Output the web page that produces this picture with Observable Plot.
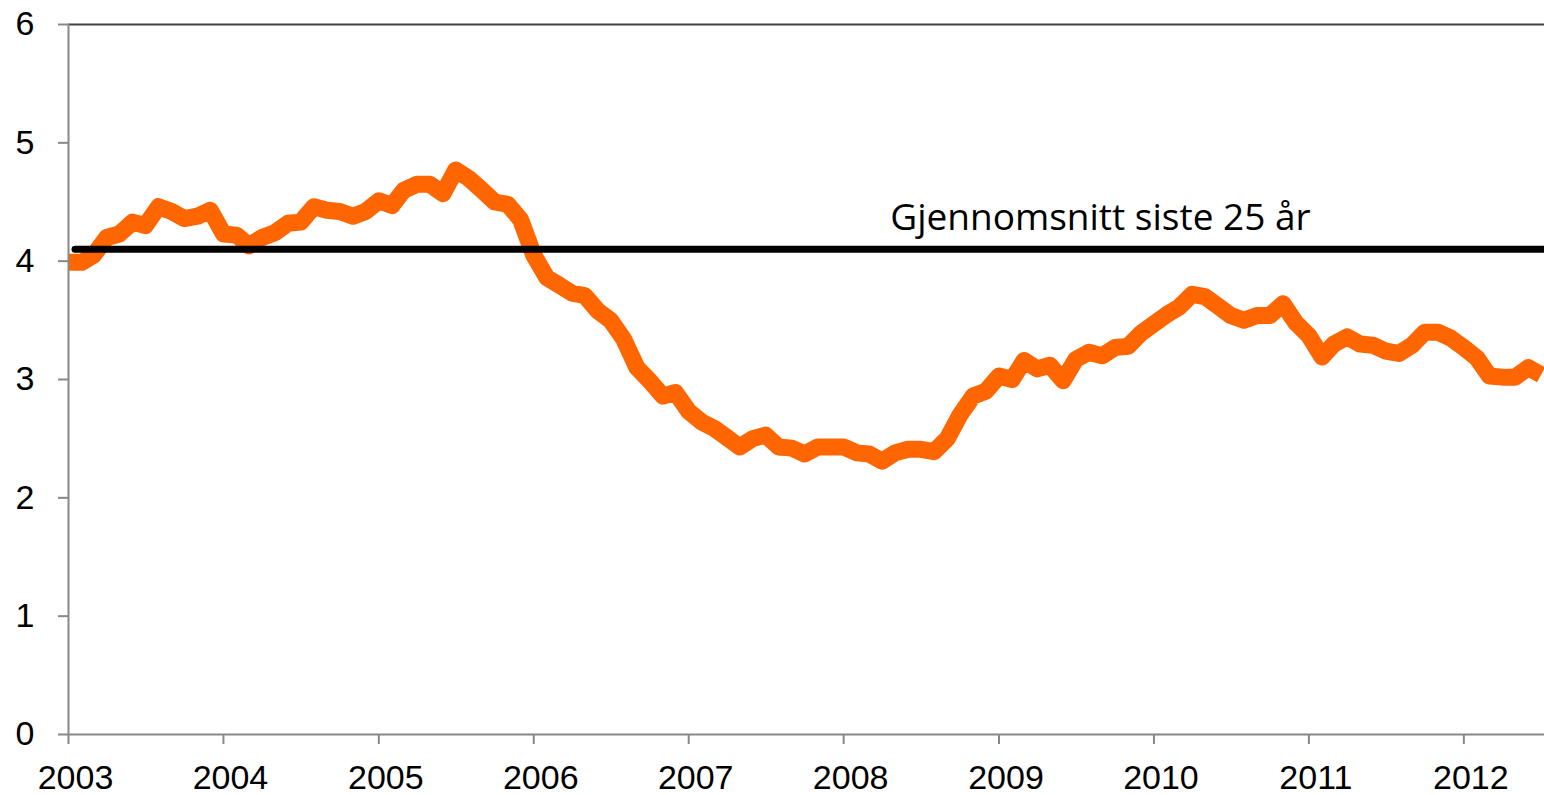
<!DOCTYPE html>
<html>
<head>
<meta charset="utf-8">
<script src="https://cdn.jsdelivr.net/npm/d3@7"></script>
<script src="https://cdn.jsdelivr.net/npm/@observablehq/plot@0.6"></script>
<style>
  html, body { margin: 0; padding: 0; background: #fff; }
</style>
</head>
<body>
<div id="chart"></div>
<script>
// Monthly series, Jan 2003 – Jul 2012
const startMonth = "2003-01-01";
const endMonth = "2012-07-01";
const values = [
  3.99, 3.99, 4.05, 4.20, 4.23, 4.33, 4.30, 4.46, 4.42, 4.36, 4.38, 4.43,
  4.23, 4.22, 4.13, 4.20, 4.24, 4.32, 4.33, 4.46, 4.43, 4.42, 4.38, 4.42,
  4.51, 4.47, 4.60, 4.65, 4.65, 4.57, 4.77, 4.70, 4.60, 4.50, 4.48, 4.35,
  4.05, 3.86, 3.80, 3.73, 3.71, 3.58, 3.50, 3.34, 3.10, 2.99, 2.86, 2.89,
  2.73, 2.64, 2.59, 2.51, 2.43, 2.50, 2.53, 2.43, 2.42, 2.37, 2.43, 2.43,
  2.43, 2.38, 2.37, 2.31, 2.38, 2.41, 2.41, 2.39, 2.50, 2.70, 2.86, 2.90,
  3.03, 3.00, 3.16, 3.09, 3.12, 2.99, 3.17, 3.23, 3.20, 3.27, 3.28, 3.39,
  3.47, 3.55, 3.61, 3.72, 3.70, 3.62, 3.54, 3.50, 3.54, 3.54, 3.64, 3.48,
  3.37, 3.19, 3.30, 3.36, 3.30, 3.29, 3.24, 3.22, 3.29, 3.40, 3.40, 3.35,
  3.27, 3.18, 3.03, 3.02, 3.02, 3.10, 3.04
];
const average = [4.1];
const averageLabel = ["Gjennomsnitt siste 25 år"];
const yearTicks = [2003, 2004, 2005, 2006, 2007, 2008, 2009, 2010, 2011, 2012];
const yTicks = [0, 1, 2, 3, 4, 5, 6];

const x0 = new Date(startMonth);
const x1 = new Date(endMonth);
const months = d3.utcMonth.range(x0, d3.utcMonth.offset(x1, 1));
const series = values.map((v, i) => ({date: months[i], value: v}));
const xTickDates = yearTicks.map(y => new Date(Date.UTC(y, 0, 1)));
const xEnd = d3.utcDay.offset(x1, 8);

const chart = Plot.plot({
  width: 1544,
  height: 795,
  marginLeft: 68,
  marginRight: 0,
  marginTop: 24,
  marginBottom: 61,
  style: {fontFamily: "'Liberation Sans', Arial, sans-serif", fontSize: "34px", color: "#000", background: "#fff"},
  x: {type: "utc", domain: [x0, xEnd]},
  y: {domain: [0, 6]},
  marks: [
    Plot.ruleY([6], {stroke: "#404040", strokeWidth: 2}),
    Plot.line(series, {x: "date", y: "value", stroke: "#FF6600", strokeWidth: 17, strokeLinejoin: "round", strokeLinecap: "butt"}),
    Plot.ruleY(average, {stroke: "#000", strokeWidth: 7, strokeLinecap: "round", dx: 7}),
    Plot.text(averageLabel, {
      x: new Date(Date.UTC(2009, 7, 28)), y: average[0],
      text: d => d, textAnchor: "middle", lineAnchor: "bottom", dy: -19,
      fontFamily: "'Open Sans', sans-serif", fontSize: 37, fill: "#000"
    }),
    Plot.ruleX([x0], {stroke: "#888", strokeWidth: 2}),
    Plot.ruleY([0], {stroke: "#888", strokeWidth: 2}),
    Plot.axisY(yTicks, {tickSize: 10, tickPadding: 24, stroke: "#888", strokeWidth: 2, fill: "#000", fontSize: 34, tickFormat: d3.format("d"), label: null}),
    Plot.axisX(xTickDates, {tickSize: 10, stroke: "#888", strokeWidth: 2, tickFormat: () => "", label: null}),
    Plot.axisX(xTickDates, {tickSize: 0, tickPadding: 30, fill: "#000", fontSize: 34, dx: 7, tickFormat: d3.utcFormat("%Y"), label: null})
  ]
});
document.getElementById("chart").appendChild(chart);
</script>
</body>
</html>
